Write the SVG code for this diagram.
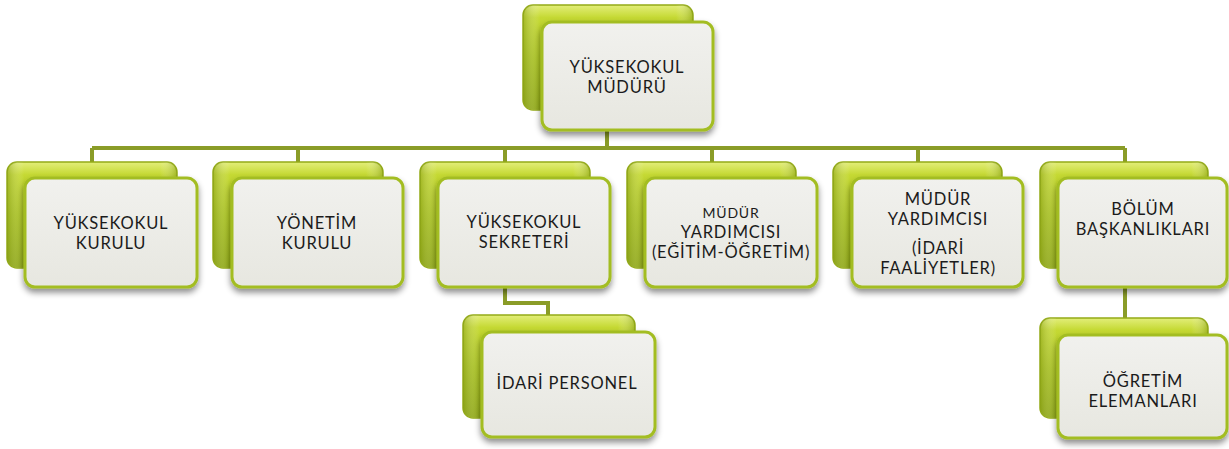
<svg xmlns="http://www.w3.org/2000/svg" width="1229" height="449" viewBox="0 0 1229 449">
<defs>
<linearGradient id="gback" x1="0" y1="0" x2="0" y2="1">
<stop offset="0" stop-color="#e3ee7a"/>
<stop offset="0.12" stop-color="#c5d933"/>
<stop offset="0.5" stop-color="#a9c21d"/>
<stop offset="1" stop-color="#8fa812"/>
</linearGradient>
<linearGradient id="gback2" x1="0" y1="0" x2="1" y2="0">
<stop offset="0" stop-color="#7f9610" stop-opacity="0.5"/>
<stop offset="0.1" stop-color="#ffffff" stop-opacity="0"/>
<stop offset="0.9" stop-color="#ffffff" stop-opacity="0"/>
<stop offset="1" stop-color="#7f9610" stop-opacity="0.5"/>
</linearGradient>
<linearGradient id="gfront" x1="0" y1="0" x2="0" y2="1">
<stop offset="0" stop-color="#f1f1ee"/>
<stop offset="1" stop-color="#e7e7e0"/>
</linearGradient>
<filter id="sh" x="-10%" y="-10%" width="120%" height="130%">
<feGaussianBlur in="SourceAlpha" stdDeviation="3"/>
<feOffset dx="0" dy="4" result="b"/>
<feFlood flood-color="#000" flood-opacity="0.45"/>
<feComposite in2="b" operator="in"/>
<feMerge><feMergeNode/><feMergeNode in="SourceGraphic"/></feMerge>
</filter>
</defs>
<style>
.back{fill:url(#gback);stroke:#94ab17;stroke-width:1.5}
.gl{fill:url(#gback2);stroke:none}
.front{fill:url(#gfront);stroke:#a3bd22;stroke-width:3;filter:url(#sh)}
.t{font-family:Lato,"Open Sans",sans-serif;font-size:16.5px;fill:#1b1b1b;text-anchor:middle;letter-spacing:0.8px}
.s{font-size:14px}
.c{fill:none;stroke:#8a9c28;stroke-width:4;stroke-linejoin:miter}
</style>
<g id="connectors">
<path class="c" d="M607 110V148M92 148H1125M92 148V162M298 148V162M505 148V162M712 148V162M918 148V162M1125 148V162M505 268V303H548V315M1125 268V318"/>
</g>
<g id="n-mudur">
<rect class="back" x="523" y="5" width="170" height="105" rx="10"/>
<rect class="gl" x="523" y="5" width="170" height="105" rx="10"/>
<rect class="front" x="542" y="22" width="171" height="108" rx="10"/>
<text class="t" x="627" y="73">YÜKSEKOKUL<tspan x="627" y="93">MÜDÜRÜ</tspan></text>
</g>
<g id="n-kurul">
<rect class="back" x="7" y="162" width="170" height="106" rx="10"/>
<rect class="gl" x="7" y="162" width="170" height="106" rx="10"/>
<rect class="front" x="25" y="178" width="172" height="109" rx="10"/>
<text class="t" x="111" y="229">YÜKSEKOKUL<tspan x="111" y="249">KURULU</tspan></text>
</g>
<g id="n-yonetim">
<rect class="back" x="213" y="162" width="170" height="106" rx="10"/>
<rect class="gl" x="213" y="162" width="170" height="106" rx="10"/>
<rect class="front" x="232" y="178" width="171" height="109" rx="10"/>
<text class="t" x="317" y="229">YÖNETİM<tspan x="317" y="249">KURULU</tspan></text>
</g>
<g id="n-sekreter">
<rect class="back" x="420" y="162" width="170" height="106" rx="10"/>
<rect class="gl" x="420" y="162" width="170" height="106" rx="10"/>
<rect class="front" x="438" y="178" width="172" height="109" rx="10"/>
<text class="t" x="524" y="228">YÜKSEKOKUL<tspan x="524" y="248">SEKRETERİ</tspan></text>
</g>
<g id="n-myegitim">
<rect class="back" x="627" y="162" width="169" height="106" rx="10"/>
<rect class="gl" x="627" y="162" width="169" height="106" rx="10"/>
<rect class="front" x="645" y="178" width="172" height="109" rx="10"/>
<text class="t" x="731" y="218"><tspan class="s">MÜDÜR</tspan><tspan x="731" y="238">YARDIMCISI</tspan><tspan x="731" y="258">(EĞİTİM-ÖĞRETİM)</tspan></text>
</g>
<g id="n-myidari">
<rect class="back" x="833" y="162" width="169" height="106" rx="10"/>
<rect class="gl" x="833" y="162" width="169" height="106" rx="10"/>
<rect class="front" x="852" y="178" width="171" height="109" rx="10"/>
<text class="t" x="938" y="205">MÜDÜR<tspan x="938" y="225">YARDIMCISI</tspan><tspan x="938" y="254">(İDARİ</tspan><tspan x="938" y="274">FAALİYETLER)</tspan></text>
</g>
<g id="n-bolum">
<rect class="back" x="1040" y="162" width="168" height="106" rx="10"/>
<rect class="gl" x="1040" y="162" width="168" height="106" rx="10"/>
<rect class="front" x="1058" y="178" width="169" height="109" rx="10"/>
<text class="t" x="1143" y="215">BÖLÜM<tspan x="1143" y="235">BAŞKANLIKLARI</tspan></text>
</g>
<g id="n-personel">
<rect class="back" x="463" y="315" width="172" height="103" rx="10"/>
<rect class="gl" x="463" y="315" width="172" height="103" rx="10"/>
<rect class="front" x="482" y="332" width="173" height="105" rx="10"/>
<text class="t" x="567" y="389">İDARİ PERSONEL</text>
</g>
<g id="n-ogretim">
<rect class="back" x="1040" y="318" width="168" height="100" rx="10"/>
<rect class="gl" x="1040" y="318" width="168" height="100" rx="10"/>
<rect class="front" x="1058" y="335" width="169" height="103" rx="10"/>
<text class="t" x="1143" y="387">ÖĞRETİM<tspan x="1143" y="407">ELEMANLARI</tspan></text>
</g>
</svg>
